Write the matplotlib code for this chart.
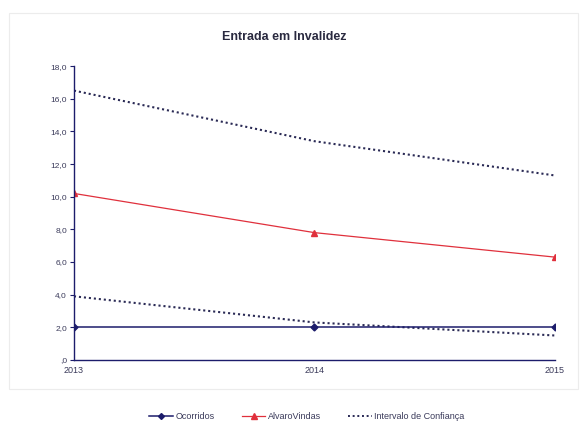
import matplotlib
matplotlib.use("Agg")
import matplotlib.pyplot as plt
from matplotlib.lines import Line2D

plt.rcParams['font.family'] = ['Liberation Sans', 'DejaVu Sans']

years = [2013, 2014, 2015]
ocorridos = [2.0, 2.0, 2.0]
alvaro_vindas = [10.2, 7.8, 6.3]
ic_upper = [16.5, 13.4, 11.3]
ic_lower = [3.9, 2.3, 1.5]
y_ticks = [0, 2, 4, 6, 8, 10, 12, 14, 16, 18]
y_tick_labels = [",0", "2,0", "4,0", "6,0", "8,0", "10,0", "12,0", "14,0", "16,0", "18,0"]

navy = "#1c1c6b"
red = "#e0303c"
dot_col = "#2a2a55"
txt = "#3a3a5a"

fig = plt.figure(figsize=(5.87, 4.32), dpi=100)
ax = fig.add_axes([0.126, 0.1667, 0.8195, 0.6803])

ax.plot(years, ic_upper, linestyle=(0, (1, 1.4)), color=dot_col, linewidth=1.5)
ax.plot(years, ic_lower, linestyle=(0, (1, 1.4)), color=dot_col, linewidth=1.5)
ax.plot(years, ocorridos, color=navy, linewidth=1.1, marker="D", markersize=3.5)
ax.plot(years, alvaro_vindas, color=red, linewidth=0.9, marker="^", markersize=5)

ax.set_xlim(2013, 2015)
ax.set_ylim(0, 18)
ax.set_xticks(years)
ax.set_xticklabels([str(y) for y in years], fontsize=6.5, color=txt)
ax.set_yticks(y_ticks)
ax.set_yticklabels(y_tick_labels, fontsize=6, color=txt)
ax.tick_params(axis='y', direction='out', length=3, width=0.8, color=navy, pad=2)
ax.tick_params(axis='x', length=0, pad=4)

for s in ['top', 'right']:
    ax.spines[s].set_visible(False)
for s in ['left', 'bottom']:
    ax.spines[s].set_color(navy)
    ax.spines[s].set_linewidth(1.0)

fig.text(0.485, 0.915, "Entrada em Invalidez", ha="center", va="center",
         fontsize=9, fontweight="bold", color="#2a2a40")

handles = [
    Line2D([], [], color=navy, linewidth=1.1, marker="D", markersize=3),
    Line2D([], [], color=red, linewidth=0.9, marker="^", markersize=4),
    Line2D([], [], color=dot_col, linestyle=(0, (1, 1.4)), linewidth=1.4),
]
labels = ["Ocorridos", "AlvaroVindas", "Intervalo de Confiança"]
leg = fig.legend(handles, labels, loc="center", bbox_to_anchor=(0.523, 0.035), ncol=3,
                 frameon=False, fontsize=6.5, handlelength=2.6, columnspacing=3.0,
                 handletextpad=0.3)
for t in leg.get_texts():
    t.set_color(txt)

fig.patches.append(plt.Rectangle((0.015, 0.1), 0.97, 0.87, transform=fig.transFigure,
                                 fill=False, edgecolor="#ececec", linewidth=0.8))

fig.savefig("out.png", dpi=100)
